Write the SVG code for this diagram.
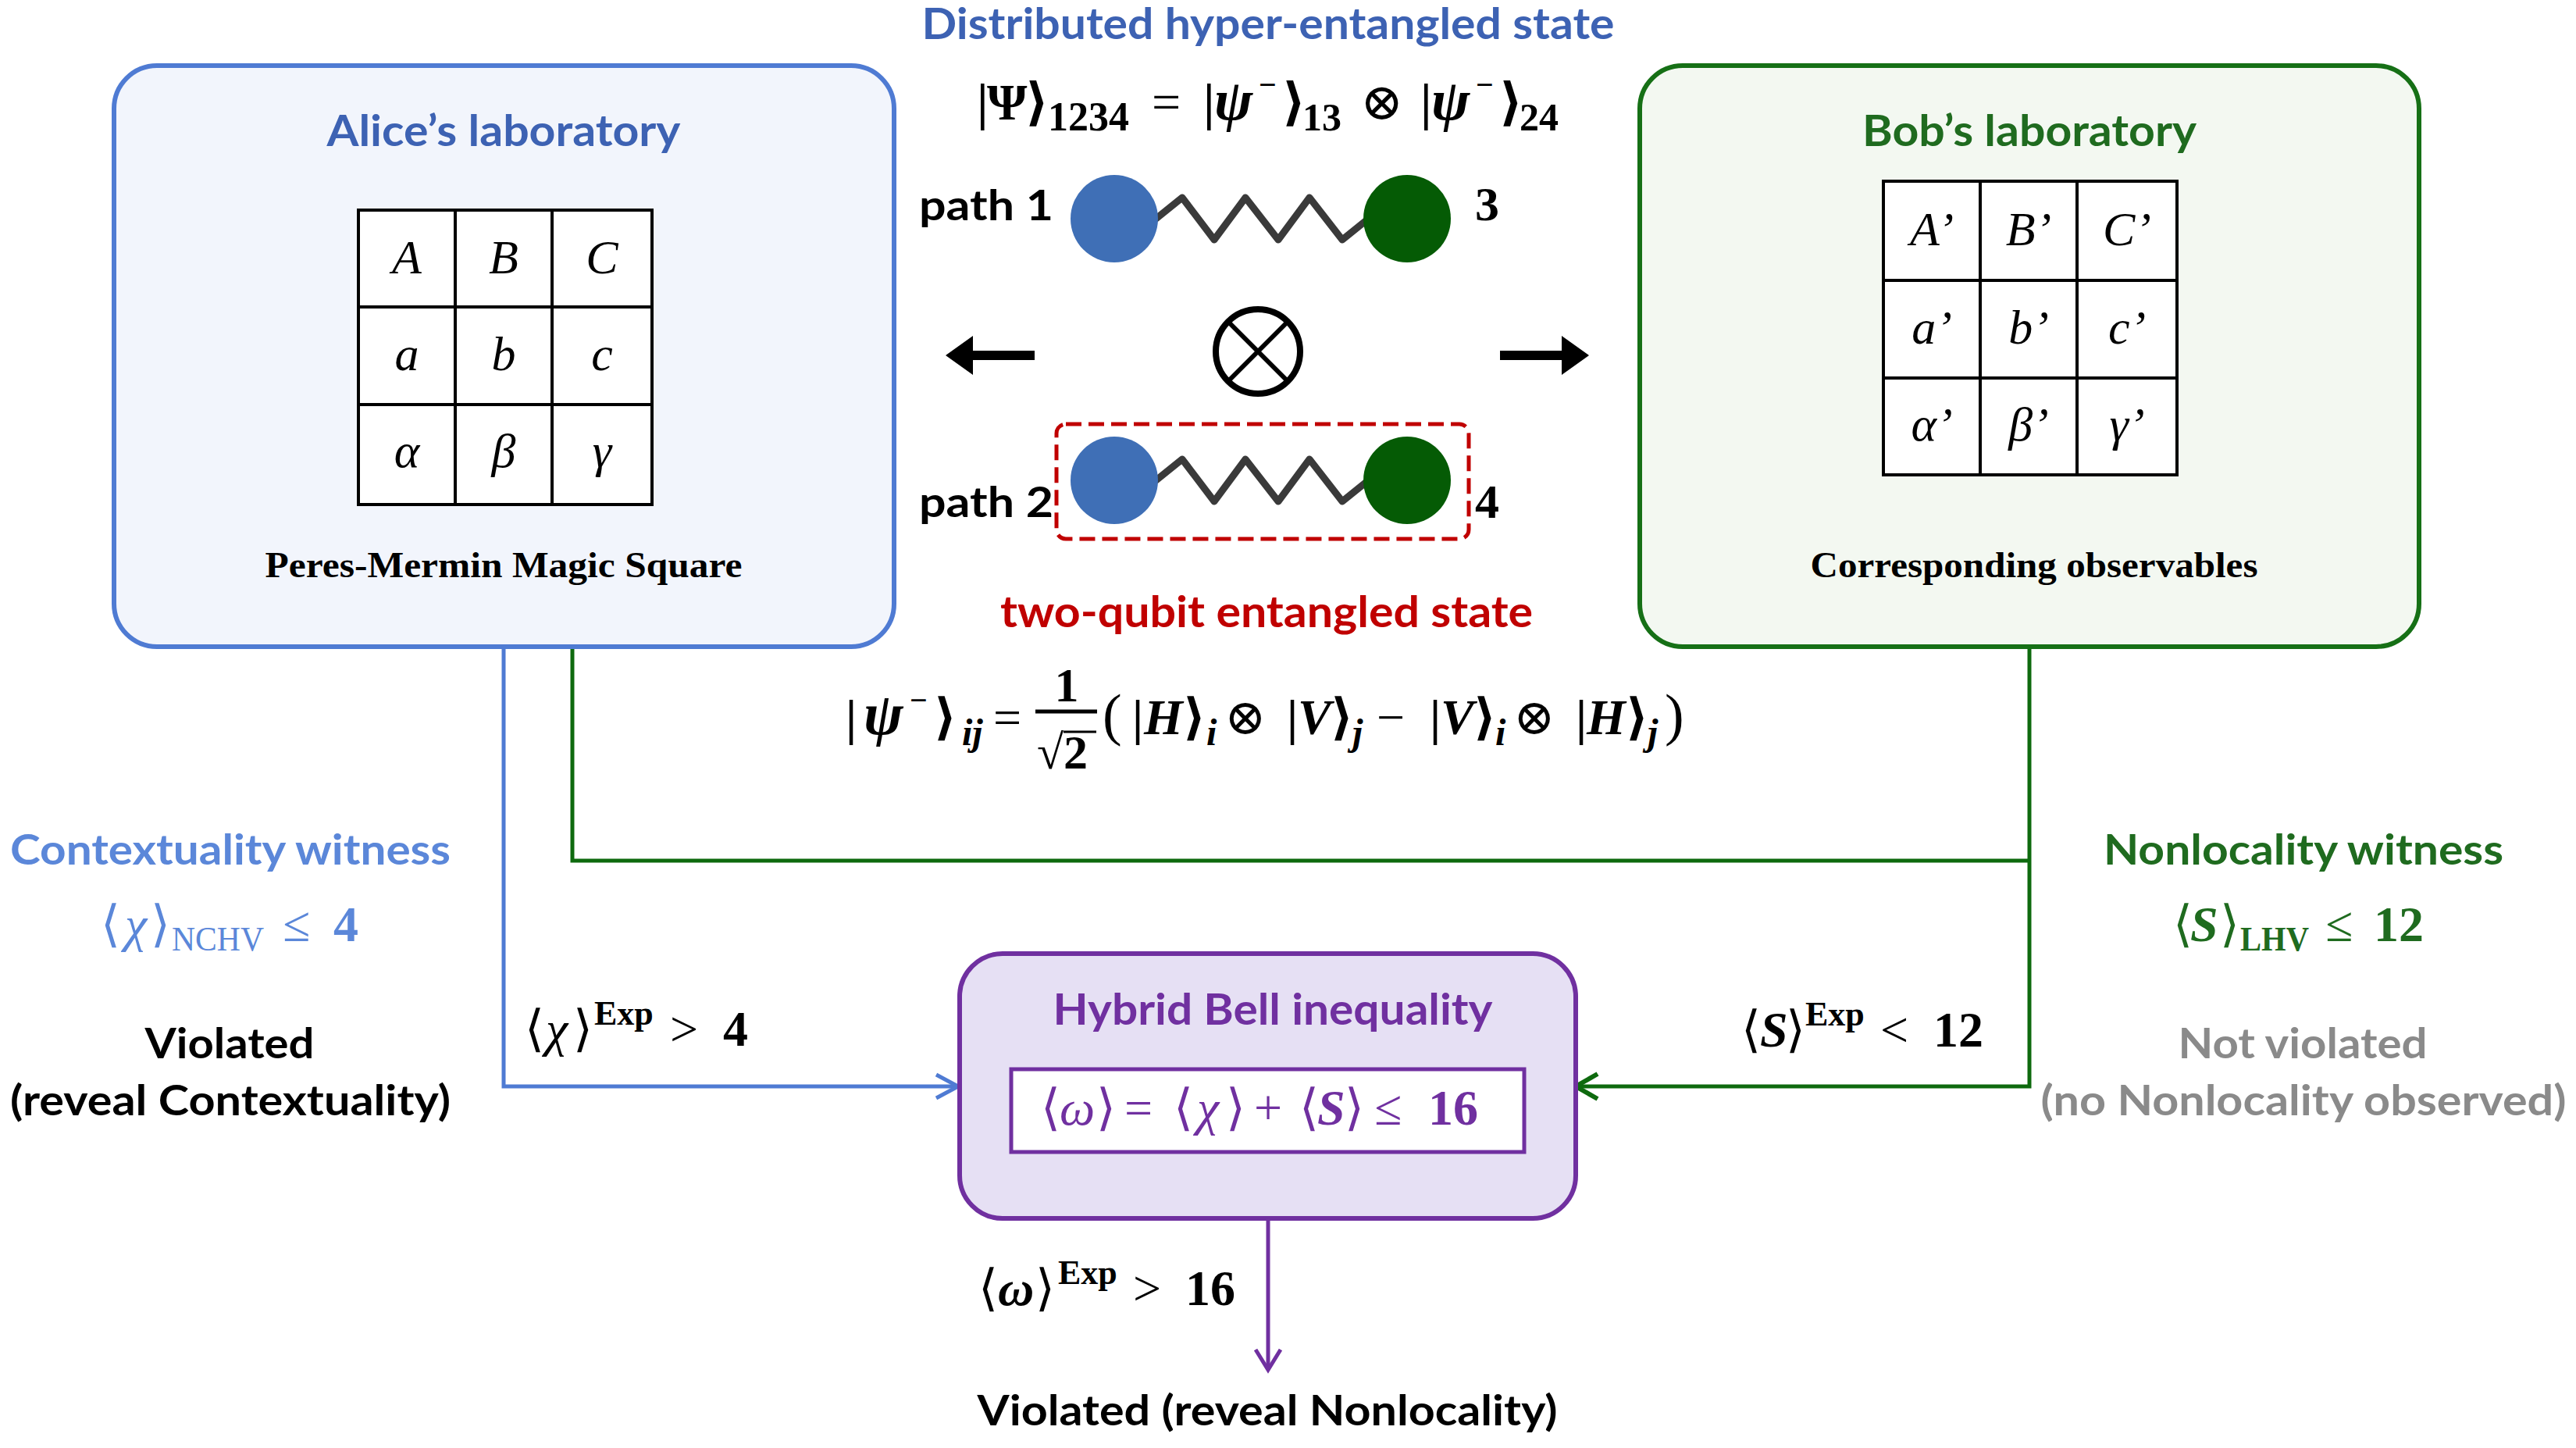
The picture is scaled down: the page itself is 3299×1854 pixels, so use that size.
<svg xmlns="http://www.w3.org/2000/svg" width="3299" height="1854" viewBox="0 0 3299 1854">
<defs>
<style>
.sans{font-family:Lato,"Open Sans","Liberation Sans",sans-serif;font-weight:bold;}
.ser{font-family:"Liberation Serif","DejaVu Serif",serif;}
.m{font-family:"Liberation Serif","DejaVu Serif",serif;font-weight:bold;}
.n{font-weight:normal;}
.b{font-weight:bold;}
.i{font-style:italic;}
.cell{font-family:"Liberation Serif","DejaVu Serif",serif;font-style:italic;font-size:62px;text-anchor:middle;fill:#000;}
.grid{fill:#fff;stroke:#000;stroke-width:4;}
.gl{stroke:#000;stroke-width:4;}
.wave{fill:none;stroke:#3a3a3a;stroke-width:9;stroke-linejoin:round;stroke-linecap:round;}
.conn{fill:none;stroke-width:5;}
</style>
<marker id="ahBlue" markerUnits="userSpaceOnUse" markerWidth="40" markerHeight="40" viewBox="0 0 40 40" refX="34" refY="20" orient="auto"><path d="M6,5 L34,20 L6,35" fill="none" stroke="#4F7BD3" stroke-width="5"/></marker>
<marker id="ahGreen" markerUnits="userSpaceOnUse" markerWidth="40" markerHeight="40" viewBox="0 0 40 40" refX="34" refY="20" orient="auto"><path d="M6,4 L34,20 L6,36" fill="none" stroke="#0E6A0E" stroke-width="6"/></marker>
<marker id="ahPurple" markerUnits="userSpaceOnUse" markerWidth="40" markerHeight="40" viewBox="0 0 40 40" refX="34" refY="20" orient="auto"><path d="M8,4 L34,20 L8,36" fill="none" stroke="#7030A0" stroke-width="5"/></marker>
</defs>
<rect width="3299" height="1854" fill="#fff"/>

<!-- Connectors -->
<g id="connectors">
<path class="conn" d="M645,828 V1391 H1227" stroke="#4F7BD3" marker-end="url(#ahBlue)"/>
<path class="conn" d="M733,828 V1102 H2599" stroke="#0E6A0E" stroke-width="6"/>
<path class="conn" d="M2599,828 V1391 H2018" stroke="#0E6A0E" stroke-width="6" marker-end="url(#ahGreen)"/>
<path class="conn" d="M1624,1560 V1754" stroke="#7030A0" marker-end="url(#ahPurple)"/>
</g>

<!-- Alice -->
<g id="alice">
<rect x="146" y="84" width="999" height="744" rx="55" fill="#F2F5FC" stroke="#4F7BD3" stroke-width="6"/>
<text class="sans" x="645" y="187" font-size="56" fill="#3D62B3" text-anchor="middle" textLength="453" lengthAdjust="spacingAndGlyphs">Alice’s laboratory</text>
<rect class="grid" x="459" y="269" width="376" height="377"/>
<line class="gl" x1="583" y1="269" x2="583" y2="646"/>
<line class="gl" x1="707" y1="269" x2="707" y2="646"/>
<line class="gl" x1="459" y1="393" x2="835" y2="393"/>
<line class="gl" x1="459" y1="518" x2="835" y2="518"/>
<text class="cell" x="521" y="350">A</text>
<text class="cell" x="645" y="350">B</text>
<text class="cell" x="771" y="350">C</text>
<text class="cell" x="521" y="474">a</text>
<text class="cell" x="645" y="474">b</text>
<text class="cell" x="771" y="474">c</text>
<text class="cell" x="521" y="598">α</text>
<text class="cell" x="645" y="598">β</text>
<text class="cell" x="771" y="598">γ</text>
<text class="ser" x="645" y="739" font-size="46" font-weight="bold" text-anchor="middle" textLength="611" lengthAdjust="spacingAndGlyphs">Peres-Mermin Magic Square</text>
</g>

<!-- Bob -->
<g id="bob">
<rect x="2100" y="84" width="998" height="744" rx="55" fill="#F3F8F1" stroke="#167016" stroke-width="6"/>
<text class="sans" x="2599" y="187" font-size="56" fill="#1F6B1F" text-anchor="middle" textLength="428" lengthAdjust="spacingAndGlyphs">Bob’s laboratory</text>
<rect class="grid" x="2412" y="232" width="376" height="376"/>
<line class="gl" x1="2536" y1="232" x2="2536" y2="608"/>
<line class="gl" x1="2660" y1="232" x2="2660" y2="608"/>
<line class="gl" x1="2412" y1="359" x2="2788" y2="359"/>
<line class="gl" x1="2412" y1="484" x2="2788" y2="484"/>
<text class="cell" x="2474" y="314">A’</text>
<text class="cell" x="2598" y="314">B’</text>
<text class="cell" x="2724" y="314">C’</text>
<text class="cell" x="2474" y="440">a’</text>
<text class="cell" x="2598" y="440">b’</text>
<text class="cell" x="2724" y="440">c’</text>
<text class="cell" x="2474" y="564">α’</text>
<text class="cell" x="2598" y="564">β’</text>
<text class="cell" x="2724" y="564">γ’</text>
<text class="ser" x="2605" y="739" font-size="46" font-weight="bold" text-anchor="middle" textLength="573" lengthAdjust="spacingAndGlyphs">Corresponding observables</text>
</g>

<!-- Source / hyper-entangled state -->
<g id="source">
<text class="sans" x="1624" y="50" font-size="56" fill="#3D62B3" text-anchor="middle" textLength="887" lengthAdjust="spacingAndGlyphs">Distributed hyper-entangled state</text>
<text class="m" y="153" font-size="66"><tspan x="1251">|</tspan><tspan x="1264">Ψ</tspan><tspan x="1313">⟩</tspan><tspan x="1342" y="167" font-size="52">1234</tspan><tspan x="1475" y="153" class="n">=</tspan><tspan x="1541">|</tspan><tspan x="1555" class="i" font-size="74">ψ</tspan><tspan x="1612" y="122" font-size="40">−</tspan><tspan x="1642" y="153">⟩</tspan><tspan x="1668" y="167" font-size="50">13</tspan><tspan x="1742" y="153" class="n">⊗</tspan><tspan x="1819">|</tspan><tspan x="1833" class="i" font-size="74">ψ</tspan><tspan x="1890" y="122" font-size="40">−</tspan><tspan x="1920" y="153">⟩</tspan><tspan x="1946" y="167" font-size="50">24</tspan></text>

<text class="sans" x="1177" y="282" font-size="54" fill="#000" textLength="172" lengthAdjust="spacingAndGlyphs">path 1</text>
<polyline class="wave" points="1478,282 1514,253 1555,307 1595,253 1637,307 1677,253 1719,307 1750,282"/>
<circle cx="1427" cy="280" r="56" fill="#3F6FB6"/>
<circle cx="1802" cy="280" r="56" fill="#055B05"/>
<text class="ser" x="1889" y="282" font-size="62" font-weight="bold" fill="#000">3</text>

<!-- arrows and tensor -->
<path d="M1325,449 H1246 V430 L1211,455 L1246,480 V461 H1325 Z" fill="#000"/>
<path d="M1921,449 H2000 V430 L2035,455 L2000,480 V461 H1921 Z" fill="#000"/>
<circle cx="1611" cy="450" r="54" fill="none" stroke="#000" stroke-width="8"/>
<line x1="1573" y1="412" x2="1649" y2="488" stroke="#000" stroke-width="6"/>
<line x1="1649" y1="412" x2="1573" y2="488" stroke="#000" stroke-width="6"/>

<rect x="1353" y="543" width="528" height="147" rx="12" fill="none" stroke="#C00000" stroke-width="5" stroke-dasharray="20,9"/>
<text class="sans" x="1177" y="662" font-size="54" fill="#000" textLength="172" lengthAdjust="spacingAndGlyphs">path 2</text>
<polyline class="wave" points="1478,617 1514,588 1555,642 1595,588 1637,642 1677,588 1719,642 1750,617"/>
<circle cx="1427" cy="615" r="56" fill="#3F6FB6"/>
<circle cx="1802" cy="615" r="56" fill="#055B05"/>
<text class="ser" x="1889" y="663" font-size="62" font-weight="bold" fill="#000">4</text>

<text class="sans" x="1622" y="803" font-size="56" fill="#C00000" text-anchor="middle" textLength="682" lengthAdjust="spacingAndGlyphs">two-qubit entangled state</text>

<text class="m" y="940" font-size="64"><tspan x="1083">|</tspan><tspan x="1106" class="i" font-size="76">ψ</tspan><tspan x="1165" y="910" font-size="40">−</tspan><tspan x="1196" y="940">⟩</tspan><tspan x="1232" y="954" font-size="48" class="i">ij</tspan><tspan x="1272" y="940" class="n">=</tspan></text>
<text class="m" x="1366" y="898" font-size="62" text-anchor="middle">1</text>
<line x1="1326" y1="911" x2="1405" y2="911" stroke="#000" stroke-width="5"/>
<text class="m" y="984" font-size="62"><tspan x="1328" class="n">√</tspan><tspan x="1362">2</tspan></text>
<line x1="1362" y1="937" x2="1404" y2="937" stroke="#000" stroke-width="3"/>
<text class="m" y="940" font-size="64"><tspan x="1412" class="n" font-size="74">(</tspan><tspan x="1450">|</tspan><tspan x="1465" class="i">H</tspan><tspan x="1515">⟩</tspan><tspan x="1545" y="954" font-size="48" class="i">i</tspan><tspan x="1568" y="940" class="n">⊗</tspan><tspan x="1648">|</tspan><tspan x="1662" class="i">V</tspan><tspan x="1704">⟩</tspan><tspan x="1732" y="954" font-size="48" class="i">j</tspan><tspan x="1763" y="940" class="n">−</tspan><tspan x="1831">|</tspan><tspan x="1845" class="i">V</tspan><tspan x="1887">⟩</tspan><tspan x="1915" y="954" font-size="48" class="i">i</tspan><tspan x="1938" y="940" class="n">⊗</tspan><tspan x="2018">|</tspan><tspan x="2032" class="i">H</tspan><tspan x="2082">⟩</tspan><tspan x="2110" y="954" font-size="48" class="i">j</tspan><tspan x="2132" y="940" class="n" font-size="74">)</tspan></text>
</g>

<!-- Hybrid Bell inequality -->
<g id="hybrid">
<rect x="1229" y="1221" width="789" height="339" rx="55" fill="#E6E0F4" stroke="#7030A0" stroke-width="6"/>
<text class="sans" x="1630" y="1312" font-size="56" fill="#7030A0" text-anchor="middle" textLength="563" lengthAdjust="spacingAndGlyphs">Hybrid Bell inequality</text>
<rect x="1295" y="1369" width="657" height="106" fill="#fff" stroke="#7030A0" stroke-width="5"/>
<text class="m n" y="1440" font-size="64" fill="#7030A0"><tspan x="1333">⟨</tspan><tspan x="1357" class="i">ω</tspan><tspan x="1404">⟩</tspan><tspan x="1440">=</tspan><tspan x="1503">⟨</tspan><tspan x="1533" class="i">χ</tspan><tspan x="1570">⟩</tspan><tspan x="1606">+</tspan><tspan x="1664">⟨</tspan><tspan x="1687" class="i b">S</tspan><tspan x="1722">⟩</tspan><tspan x="1760">≤</tspan><tspan x="1829" class="b">16</tspan></text>
</g>

<!-- Contextuality witness (left) -->
<g id="contextuality">
<text class="sans" x="295" y="1107" font-size="54" fill="#5B87D9" text-anchor="middle" textLength="564" lengthAdjust="spacingAndGlyphs">Contextuality witness</text>
<text class="m n" y="1205" font-size="64" fill="#5B87D9"><tspan x="129">⟨</tspan><tspan x="160" class="i">χ</tspan><tspan x="193">⟩</tspan><tspan x="220" y="1217" font-size="44" textLength="118" lengthAdjust="spacingAndGlyphs">NCHV</tspan><tspan x="362" y="1205">≤</tspan><tspan x="427" class="b">4</tspan></text>
<text class="sans" x="294" y="1355" font-size="54" fill="#000" text-anchor="middle" textLength="217" lengthAdjust="spacingAndGlyphs">Violated</text>
<text class="sans" x="295" y="1428" font-size="54" fill="#000" text-anchor="middle" textLength="564" lengthAdjust="spacingAndGlyphs">(reveal Contextuality)</text>
<text class="m n" y="1339" font-size="64" fill="#000"><tspan x="672">⟨</tspan><tspan x="699" class="i">χ</tspan><tspan x="734">⟩</tspan><tspan x="761" y="1312" font-size="44" class="b">Exp</tspan><tspan x="858" y="1339">&gt;</tspan><tspan x="926" class="b">4</tspan></text>
</g>

<!-- Nonlocality witness (right) -->
<g id="nonlocality">
<text class="sans" x="2950" y="1107" font-size="54" fill="#1F6B1F" text-anchor="middle" textLength="512" lengthAdjust="spacingAndGlyphs">Nonlocality witness</text>
<text class="m" y="1205" font-size="64" fill="#1F6B1F"><tspan x="2783" class="n">⟨</tspan><tspan x="2805" class="i">S</tspan><tspan x="2843" class="n">⟩</tspan><tspan x="2869" y="1217" font-size="44" textLength="88" lengthAdjust="spacingAndGlyphs">LHV</tspan><tspan x="2978" y="1205" class="n">≤</tspan><tspan x="3040">12</tspan></text>
<text class="sans" x="2949" y="1355" font-size="54" fill="#8A8A8A" text-anchor="middle" textLength="319" lengthAdjust="spacingAndGlyphs">Not violated</text>
<text class="sans" x="2950" y="1428" font-size="54" fill="#8A8A8A" text-anchor="middle" textLength="673" lengthAdjust="spacingAndGlyphs">(no Nonlocality observed)</text>
<text class="m" y="1340" font-size="64" fill="#000"><tspan x="2230" class="n">⟨</tspan><tspan x="2254" class="i">S</tspan><tspan x="2287" class="n">⟩</tspan><tspan x="2312" y="1313" font-size="44">Exp</tspan><tspan x="2408" y="1340" class="n">&lt;</tspan><tspan x="2476">12</tspan></text>
</g>

<!-- Result -->
<g id="result">
<text class="m n" y="1671" font-size="64" fill="#000"><tspan x="1253">⟨</tspan><tspan x="1278" class="i b">ω</tspan><tspan x="1326">⟩</tspan><tspan x="1355" y="1644" font-size="44" class="b">Exp</tspan><tspan x="1451" y="1671">&gt;</tspan><tspan x="1518" class="b">16</tspan></text>
<text class="sans" x="1623" y="1825" font-size="54" fill="#000" text-anchor="middle" textLength="743" lengthAdjust="spacingAndGlyphs">Violated (reveal Nonlocality)</text>
</g>
</svg>
